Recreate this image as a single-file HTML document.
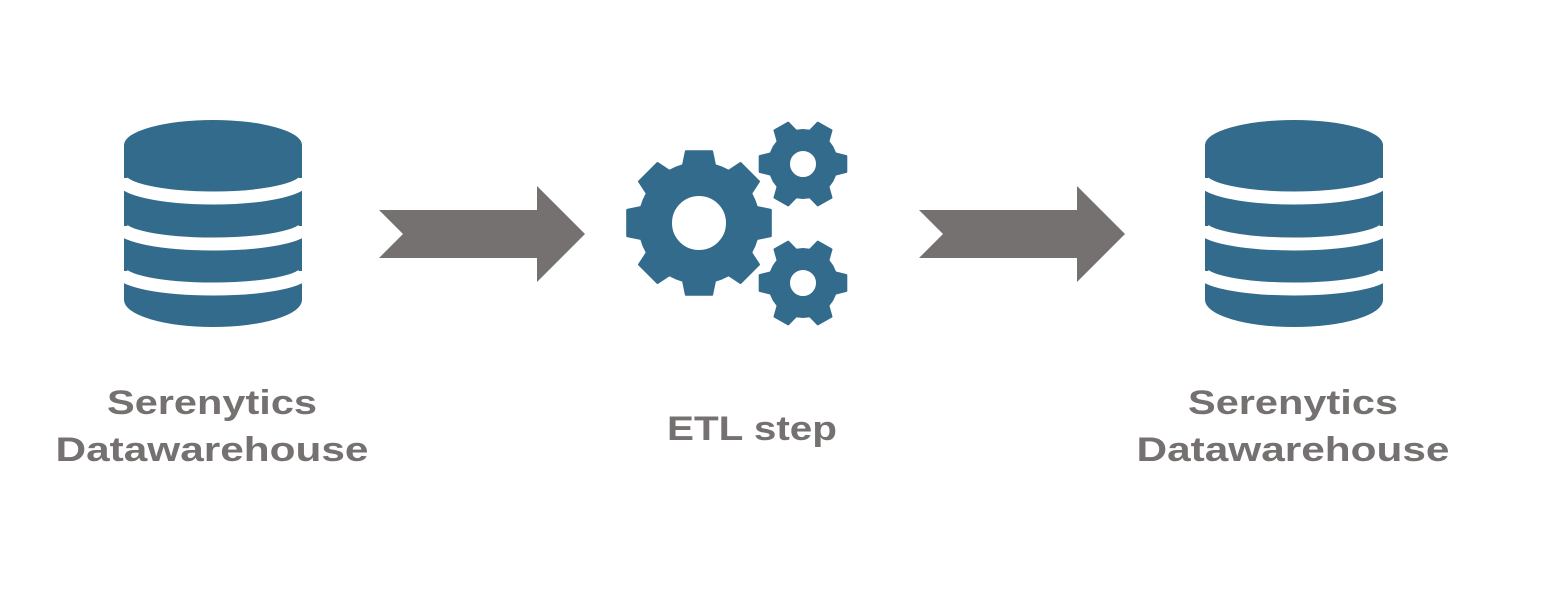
<!DOCTYPE html>
<html><head><meta charset="utf-8"><style>
html,body{margin:0;padding:0;background:#fff;}
svg{display:block;}
text{font-family:"Liberation Sans",sans-serif;font-weight:bold;fill:#757170;font-size:34px;}
</style></head><body>
<svg id="s" width="1542" height="590" viewBox="0 0 1542 590" xmlns="http://www.w3.org/2000/svg">
<defs>
<g id="db">
  <path d="M-89,25 A89,25 0 0 1 89,25 L89,180 A89,27 0 0 1 -89,180 Z" fill="#336b8c"/>
  <path d="M-92,58 A92,20 0 0 0 92,58" fill="none" stroke="#fff" stroke-width="13"/>
  <path d="M-92,106 A92,18 0 0 0 92,106" fill="none" stroke="#fff" stroke-width="13"/>
  <path d="M-92,151 A92,18 0 0 0 92,151" fill="none" stroke="#fff" stroke-width="13"/>
</g>
<polygon id="arr" points="0,24 158,24 158,0 206,48 158,96 158,72 0,72 24,48" fill="#757170"/>
</defs>
<use href="#db" x="213" y="120"/>
<use href="#db" x="1294" y="120"/>
<use href="#arr" x="379" y="186"/>
<use href="#arr" x="919" y="186"/>
<g id="gears" fill="#336b8c" fill-rule="evenodd" stroke="#336b8c" stroke-width="2" stroke-linejoin="round"></g>
<text x="212" y="414" text-anchor="middle" textLength="210" lengthAdjust="spacingAndGlyphs">Serenytics</text>
<text x="212" y="461" text-anchor="middle" textLength="313" lengthAdjust="spacingAndGlyphs">Datawarehouse</text>
<text x="1293" y="414" text-anchor="middle" textLength="210" lengthAdjust="spacingAndGlyphs">Serenytics</text>
<text x="1293" y="461" text-anchor="middle" textLength="313" lengthAdjust="spacingAndGlyphs">Datawarehouse</text>
<text x="752" y="440" text-anchor="middle" textLength="170" lengthAdjust="spacingAndGlyphs">ETL step</text>
</svg>
<script>
function gear(cx,cy,n,ro,ri,rh,tw,bw,rot){
  var d="",step=2*Math.PI/n;
  for(var i=0;i<n;i++){
    var a=rot+i*step;
    var pts=[[a-step/2,ri],[a-bw,ri],[a-tw,ro],[a+tw,ro],[a+bw,ri]];
    pts.forEach(function(p,j){
      var x=cx+p[1]*Math.cos(p[0]),y=cy+p[1]*Math.sin(p[0]);
      d+=(i==0&&j==0?"M":"L")+x.toFixed(1)+","+y.toFixed(1);
    });
  }
  d+="Z M"+(cx+rh)+","+cy+" A"+rh+","+rh+" 0 1 0 "+(cx-rh)+","+cy+" A"+rh+","+rh+" 0 1 0 "+(cx+rh)+","+cy+"Z";
  var p=document.createElementNS("http://www.w3.org/2000/svg","path");
  p.setAttribute("d",d);
  document.getElementById("gears").appendChild(p);
}
gear(699,223,8,73,60,28,0.18,0.27,-Math.PI/2);
gear(803,164,6,44,34,14,0.18,0.32,0);
gear(803,283,6,44,34,14,0.18,0.32,0);
</script>
</body></html>
